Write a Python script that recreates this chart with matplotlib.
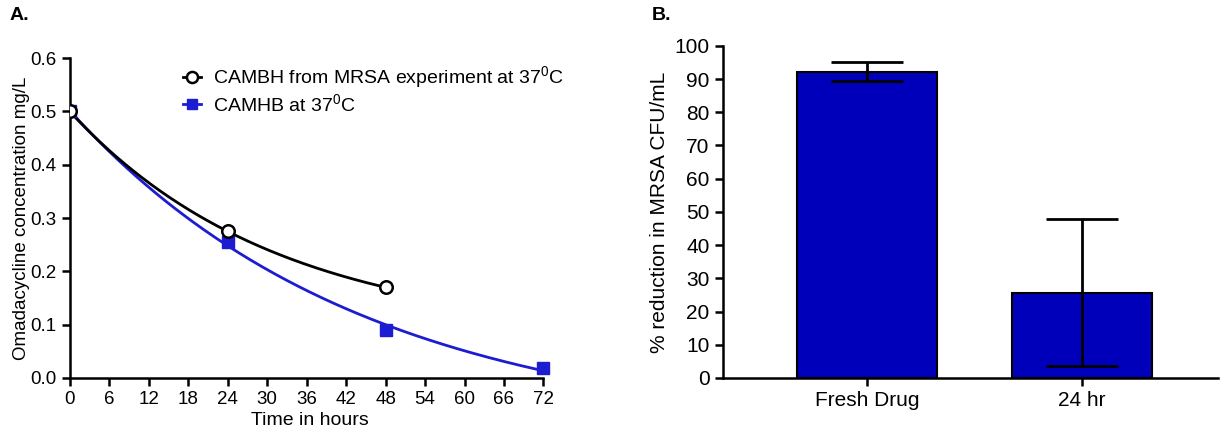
import numpy as np, matplotlib
matplotlib.use('Agg')
import matplotlib.pyplot as plt

plt.rcParams['font.family'] = ['Liberation Sans', 'DejaVu Sans']
plt.rcParams['mathtext.fontset'] = 'custom'
plt.rcParams['mathtext.rm'] = 'Liberation Sans'
plt.rcParams['mathtext.it'] = 'Liberation Sans'

# Panel A data
time_mrsa = [0, 24, 48]
conc_mrsa = [0.5, 0.275, 0.17]
time_camhb = [0, 24, 48, 72]
conc_camhb = [0.5, 0.255, 0.09, 0.018]
label_mrsa = 'CAMBH from MRSA experiment at 37$^{0}$C'
label_camhb = 'CAMHB at 37$^{0}$C'
xticks_a = [0, 6, 12, 18, 24, 30, 36, 42, 48, 54, 60, 66, 72]

# Panel B data
groups = ['Fresh Drug', '24 hr']
reduction = [92.0, 25.5]
err_low = [89.5, 3.5]
err_high = [95.0, 48.0]


def decay_fit(x, y):
    # one-phase decay with plateau, grid over k, linear LS for span & plateau
    x, y = np.asarray(x, float), np.asarray(y, float)
    best = None
    for k in np.linspace(0.001, 0.2, 2000):
        A = np.column_stack([np.exp(-k * x), np.ones_like(x)])
        coef, *_ = np.linalg.lstsq(A, y, rcond=None)
        r = np.sum((A @ coef - y) ** 2)
        if best is None or r < best[0]:
            best = (r, k, coef)
    _, k, (span, plat) = best
    return lambda t: span * np.exp(-k * t) + plat


fig = plt.figure(figsize=(12.25, 4.41), dpi=100)
axA = fig.add_axes([0.057, 0.143, 0.392, 0.725])
axB = fig.add_axes([0.590, 0.143, 0.404, 0.753])

black_c = 'black'
blue_c = '#1c1cd0'

t1 = np.linspace(0, 48, 200)
t2 = np.linspace(0, 72, 200)
axA.plot(t2, decay_fit(time_camhb, conc_camhb)(t2), color=blue_c, lw=2, zorder=2)
axA.plot(t1, decay_fit(time_mrsa, conc_mrsa)(t1), color=black_c, lw=2, zorder=3)
axA.plot(time_camhb, conc_camhb, 's', color=blue_c, ms=8, zorder=4)
axA.plot(time_mrsa, conc_mrsa, 'o', mfc='white', mec=black_c, mew=1.8, ms=9, zorder=5)

# legend handles
h1, = axA.plot([], [], '-o', color=black_c, mfc='white', mew=1.8, ms=8, lw=2)
h2, = axA.plot([], [], '-s', color=blue_c, ms=7, lw=2)
axA.legend([h1, h2], [label_mrsa, label_camhb], loc='upper left',
           bbox_to_anchor=(0.2, 1.035), frameon=False, fontsize=14,
           handlelength=0.9, handletextpad=0.6, labelspacing=0.15)

axA.set_xlim(0, 73)
axA.set_ylim(0, 0.6)
axA.set_xticks(xticks_a)
axA.set_yticks(np.arange(0, 0.61, 0.1))
axA.set_yticklabels([f'{v:.1f}' for v in np.arange(0, 0.61, 0.1)])
axA.spines['left'].set_bounds(0, 0.6)
axA.spines['bottom'].set_bounds(0, 72)
axA.set_xlabel('Time in hours', fontsize=14, labelpad=3)
axA.set_ylabel('Omadacycline concentration mg/L', fontsize=13.5, labelpad=0)
axA.tick_params(labelsize=13.5)

# Panel B
pos = np.arange(len(groups))
axB.bar(pos, reduction, width=0.65, color='#0000bb', edgecolor='black', lw=1.5, zorder=2)
mid = [(lo + hi) / 2 for lo, hi in zip(err_low, err_high)]
half = [(hi - lo) / 2 for lo, hi in zip(err_low, err_high)]
axB.errorbar(pos, mid, yerr=half, fmt='none', ecolor='black', elinewidth=2,
             capsize=26, capthick=2, zorder=3)
axB.set_xlim(-0.67, 1.63)
axB.set_ylim(0, 100)
axB.set_yticks(range(0, 101, 10))
axB.set_xticks(pos)
axB.set_xticklabels(groups)
axB.set_ylabel('% reduction in MRSA CFU/mL', fontsize=15, labelpad=4)
axB.tick_params(labelsize=15)

for ax in (axA, axB):
    for s in ('top', 'right'):
        ax.spines[s].set_visible(False)
    for s in ('left', 'bottom'):
        ax.spines[s].set_linewidth(1.8)
    ax.tick_params(width=1.8, length=6, color='black')

fig.text(0.008, 0.955, 'A.', fontsize=14, fontweight='bold')
fig.text(0.532, 0.955, 'B.', fontsize=14, fontweight='bold')

fig.savefig('out.png', dpi=100)
